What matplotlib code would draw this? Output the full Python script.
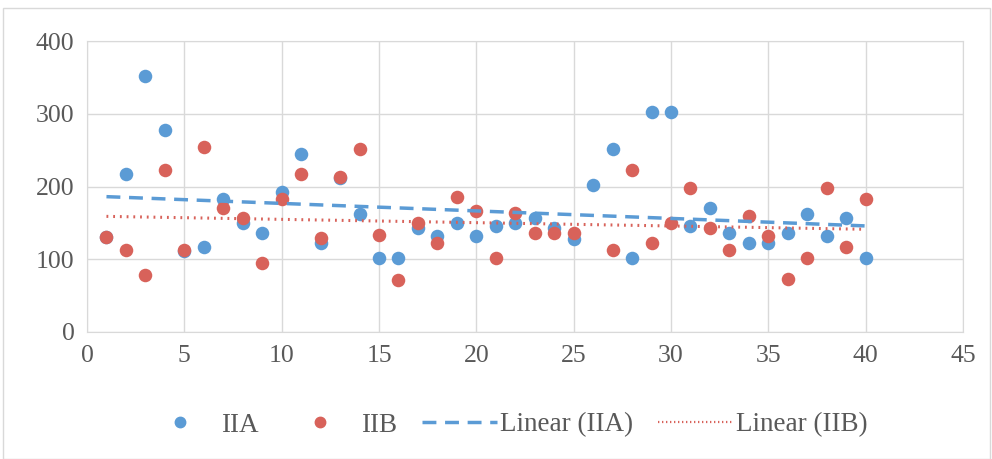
import numpy as np
import matplotlib
matplotlib.use("Agg")
import matplotlib.pyplot as plt
from matplotlib.lines import Line2D
from matplotlib.patches import Rectangle

x = list(range(1, 41))
iia = [130, 217, 352, 277, 112, 117, 183, 150, 136, 193,
       245, 122, 212, 162, 102, 102, 143, 132, 150, 132,
       146, 150, 157, 143, 128, 202, 251, 102, 302, 302,
       146, 170, 136, 122, 122, 136, 162, 132, 157, 102]
iib = [131, 113, 78, 223, 113, 254, 171, 157, 95, 183,
       217, 129, 213, 251, 133, 71, 150, 122, 186, 166,
       102, 163, 136, 136, 136, np.nan, 113, 223, 122, 150,
       198, 143, 113, 159, 132, 73, 102, 198, 117, 183]
legend_labels = ["IIA", "IIB", "Linear (IIA)", "Linear (IIB)"]

blue = "#5B9BD5"
red = "#D8625A"
plt.rcParams['font.family'] = ['Liberation Serif', 'DejaVu Serif']

fig = plt.figure(figsize=(9.92, 4.59), dpi=100)
ax = fig.add_axes([87/992, 1 - 332/459, (963-87)/992, (332-41)/459])

xa = np.array(x, float)
a = np.array(iia, float)
b = np.array(iib, float)

ax.scatter(xa, a, s=95, color=blue, zorder=3, linewidths=0)
ax.scatter(xa, b, s=95, color=red, zorder=4, linewidths=0)

pa = np.polyfit(xa, a, 1)
m = ~np.isnan(b)
pb = np.polyfit(xa[m], b[m], 1)
xl = np.array([xa.min(), xa.max()])
ax.plot(xl, np.polyval(pa, xl), color=blue, lw=2.5, ls=(0, (4, 2.5)), zorder=5)
ax.plot(xl, np.polyval(pb, xl), color=red, lw=2.2, ls=(0, (0.6, 1.6)), zorder=5)

ax.set_xlim(0, 45)
ax.set_ylim(0, 400)
ax.set_xticks(range(0, 46, 5))
ax.set_yticks(range(0, 401, 100))
ax.grid(True, color="#D9D9D9", lw=1)
ax.set_axisbelow(True)
for s in ax.spines.values():
    s.set_color("#D9D9D9")
ax.tick_params(length=0, labelsize=18.5, colors="#595959", pad=9)

handles = [
    Line2D([], [], marker='o', ls='none', color=blue, markersize=7.5),
    Line2D([], [], marker='o', ls='none', color=red, markersize=7.5),
    Line2D([], [], color=blue, lw=2.5, ls=(0, (4, 2.5))),
    Line2D([], [], color=red, lw=1.6, ls=(0, (0.6, 1.2))),
]
leg = fig.legend(handles, legend_labels, loc='center', bbox_to_anchor=(0.509, 1 - 425/459),
                 ncol=4, frameon=False, fontsize=19.5, handlelength=2.8, columnspacing=0.9,
                 handletextpad=0.1)
for t in leg.get_texts():
    t.set_color("#595959")

fig.patches.append(Rectangle((3/992, 0), 1 - 5/992, 1 - 8/459, transform=fig.transFigure,
                             fill=False, edgecolor="#D9D9D9", lw=1))

fig.savefig("out.png", dpi=100)
